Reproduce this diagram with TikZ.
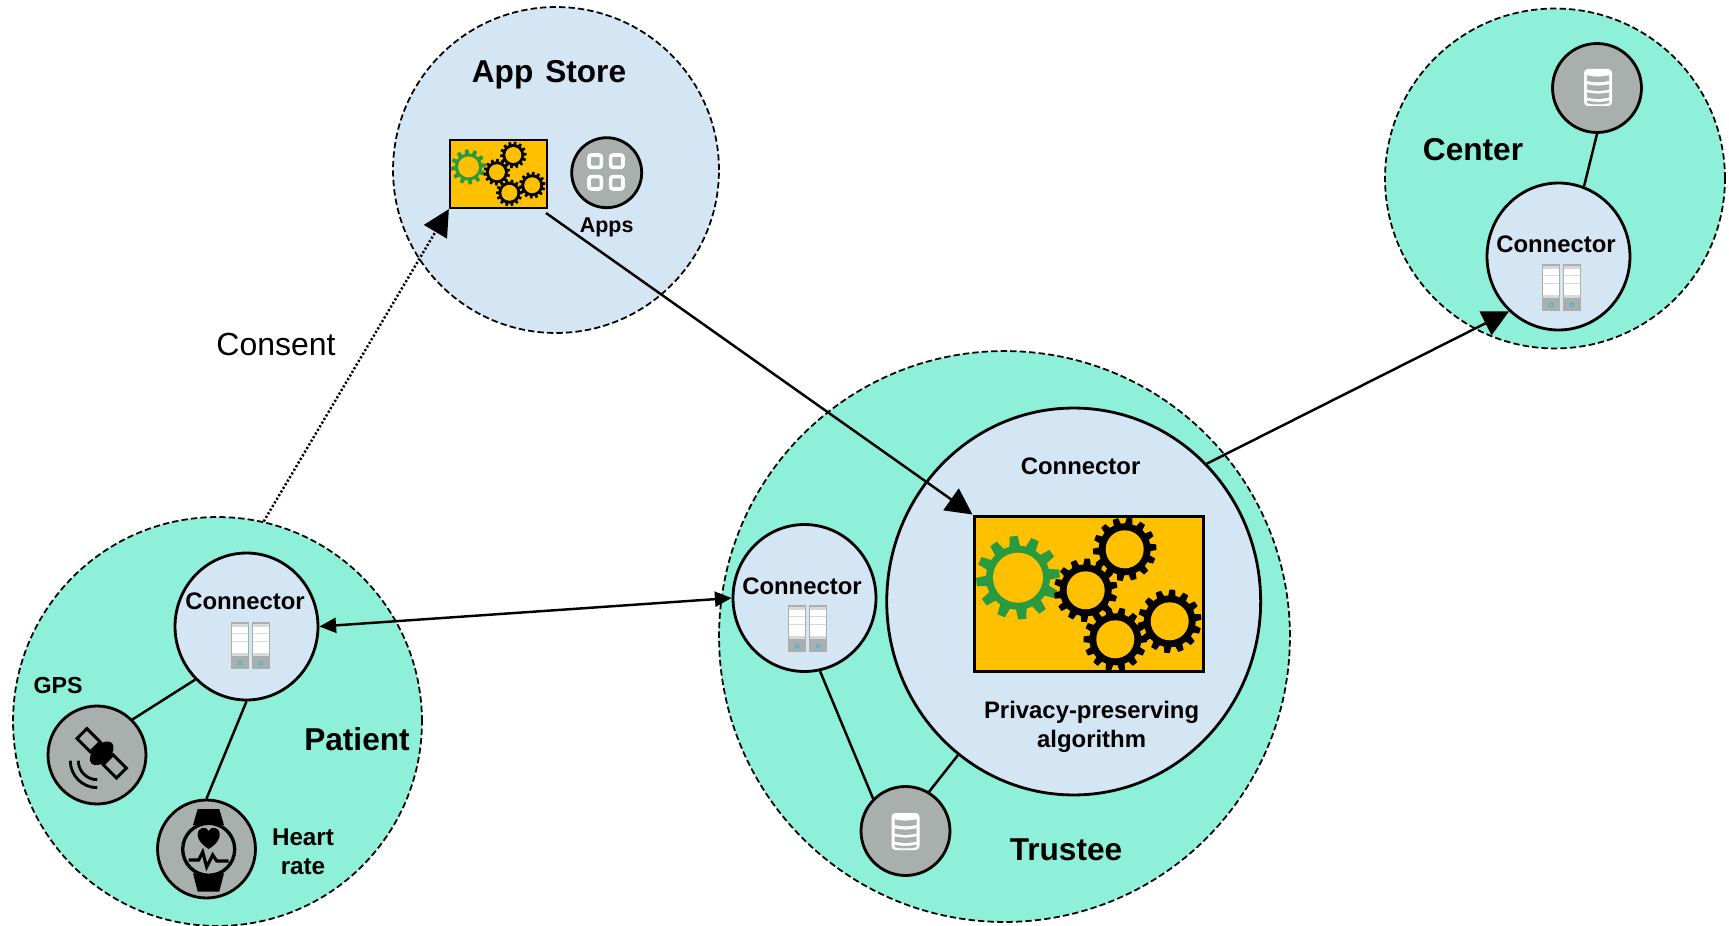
\documentclass[tikz,border=0pt]{standalone}
\usepackage{fontspec}
\setmainfont{Liberation Sans}
\usetikzlibrary{arrows.meta}
\usetikzlibrary{shapes.geometric}

\definecolor{zoneteal}{HTML}{8EF0D9}
\definecolor{zoneblue}{HTML}{D4E5F4}
\definecolor{icongray}{HTML}{A8AFAD}
\definecolor{algoorange}{HTML}{FFC000}
\definecolor{geargreen}{HTML}{2A9A40}
\definecolor{rackcyan}{HTML}{3FB4E0}

\tikzset{
	zone/.style={circle, draw, dash pattern=on 3.6pt off 1.8pt, line width=1pt, inner sep=0pt},
	connector/.style={ellipse, draw, fill=zoneblue, line width=1.6pt, inner sep=0pt, minimum width=2.86cm, minimum height=2.94cm},
	device/.style={circle, draw, fill=icongray, line width=1.6pt, inner sep=0pt},
	algo/.style={rectangle, draw, fill=algoorange, inner sep=0pt},
	title/.style={font=\fontsize{18}{20}\selectfont\bfseries},
	tag/.style={font=\fontsize{13.6}{16.6}\selectfont\bfseries, align=center},
	link/.style={line width=1.4pt},
	flow/.style={link, -{Triangle[length=15pt,width=15pt]}},
	both/.style={link, {Triangle[length=9.5pt,width=8.5pt]}-{Triangle[length=9.5pt,width=8.5pt]}},
}

% One gear wheel: x, y, hole radius, collar radius, tip radius, number of teeth, phase, colour
\newcommand{\gearwheel}[8]{
	\pgfmathsetmacro{\gearstep}{360/#6}
	\fill[#8] (#1,#2) circle (#4);
	\foreach \k in {1,...,#6} {
		\pgfmathsetmacro{\gearang}{#7+\k*\gearstep}
		\fill[#8, shift={(#1,#2)}, rotate=\gearang] (#4-1,-0.32*\gearstep/360*6.28*#4) -- (#5,-0.24*\gearstep/360*6.28*#4) -- (#5,0.24*\gearstep/360*6.28*#4) -- (#4-1,0.32*\gearstep/360*6.28*#4) -- cycle;
	}
	\fill[algoorange] (#1,#2) circle (#3);
}

% The five wheels, from the top left corner of their box
\newcommand{\gearset}[3]{
	\begin{scope}[shift={(#1,#2)}, scale=#3]
		\gearwheel{44}{61.7}{25}{32}{41.7}{12}{6}{geargreen}
		\gearwheel{150.7}{33.3}{19}{26}{31.7}{14}{4}{black}
		\gearwheel{111.7}{74.3}{19}{26}{31.7}{14}{10}{black}
		\gearwheel{141.3}{123.3}{19}{26}{31.7}{14}{0}{black}
		\gearwheel{195.7}{105.3}{19}{26}{31.7}{14}{8}{black}
	\end{scope}
}

% Two racks, from their top left corner
\newcommand{\racks}[2]{
	\foreach \dx in {0,21} {
		\begin{scope}[shift={(#1+\dx,#2)}]
			\fill[icongray] (0,0) rectangle (18,47);
			\fill[white] (1.3,1.5) rectangle (16.7,34);
			\fill[black!15] (1.3,1.5) rectangle (16.7,4.5);
			\fill[black!15] (1.3,11) rectangle (16.7,12.3);
			\fill[black!15] (1.3,19) rectangle (16.7,20.3);
			\fill[black!15] (1.3,30.5) rectangle (16.7,34);
			\draw[rackcyan, line width=0.5pt] (9,41) circle (2);
		\end{scope}
	}
}

% White cylinder, from its centre
\newcommand{\stack}[2]{
	\begin{scope}[shift={(#1,#2)}]
		\fill[white, rounded corners=2.2pt] (-14,-18.5) rectangle (14,18.5);
		\foreach \y/\h in {-12.3/5.6, -3.3/5.3, 4.7/5.3, 13/2.6} {
			\fill[icongray] (-11,\y) .. controls (-5,\y+1.8) and (5,\y+1.8) .. (11,\y) -- (11,\y+\h) .. controls (5,\y+\h+1.8) and (-5,\y+\h+1.8) .. (-11,\y+\h) -- cycle;
		}
	\end{scope}
}

\begin{document}
\begin{tikzpicture}[x=0.02cm, y=-0.02cm]
	\useasboundingbox (0,0) rectangle (1729,926);

	% The four zones
	\node[zone, fill=zoneblue, minimum size=6.52cm] (store) at (556,170) {};
	\node[zone, fill=zoneteal, minimum size=8.18cm] (patient) at (217.5,721.5) {};
	\node[zone, fill=zoneteal, minimum size=11.42cm] (trustee) at (1004.5,636.5) {};
	\node[zone, fill=zoneteal, minimum size=6.8cm] (center) at (1555,178.5) {};

	% Connectors
	\node[connector] (conPatient) at (246.5,626.5) {};
	\node[connector] (conTrustee) at (804.5,598) {};
	\node[connector] (conCenter) at (1558.5,256.5) {};
	\node[connector, minimum width=7.48cm, minimum height=7.74cm] (conAlgo) at (1073.7,601.5) {};

	% Devices
	\node[device, minimum size=1.96cm] (gps) at (97,755) {};
	\node[device, minimum size=1.96cm] (watch) at (206.5,849) {};
	\node[device, minimum size=1.78cm] (dbTrustee) at (905.5,831) {};
	\node[device, minimum size=1.78cm] (dbCenter) at (1597,88) {};
	\node[device, minimum size=1.4cm] (apps) at (606.7,172.7) {};

	% Algorithm boxes and their wheels
	\node[algo, line width=1.3pt, minimum width=1.94cm, minimum height=1.36cm] (algoStore) at (498.5,174) {};
	\node[algo, line width=1.7pt, minimum width=4.6cm, minimum height=3.12cm] (algoBig) at (1089,594) {};
	\gearset{450}{141}{0.42}
	\gearset{974}{516}{1}

	% Icons
	\racks{231}{622}
	\racks{788}{605}
	\racks{1542}{264}
	\stack{1598}{87.5}
	\stack{905.5}{831.5}

	\foreach \dx/\dy in {-10.8/-10.8, 10.8/-10.8, -10.8/10.8, 10.8/10.8} {
		\draw[white, line width=2.1pt, rounded corners=1.5pt] (606+\dx-6.2,172+\dy-6.2) rectangle (606+\dx+6.2,172+\dy+6.2);
	}

	% Satellite
	\begin{scope}[shift={(101.7,753.3)}, rotate=-45]
		\draw[line width=1.7pt] (-28,-7) rectangle (-9,7);
		\draw[line width=1.7pt] (9,-7) rectangle (28,7);
		\fill (0,0) ellipse (8.5 and 14.5);
	\end{scope}
	\foreach \r in {19,27} {
		\draw[line width=1.6pt] (97.3-\r,760.7) arc (180:90:\r);
	}

	% Watch
	\fill (197.7,809) -- (219.3,809) -- (224,825) -- (193,825) -- cycle;
	\fill (193,873.3) -- (224,873.3) -- (219.3,891.5) -- (197.7,891.5) -- cycle;
	\draw[line width=1.9pt, fill=icongray] (208.7,849.3) circle (26);
	\fill[shift={(208.7,849)}] (0,0) .. controls (-8,-5) and (-11,-10) .. (-11,-14) .. controls (-11,-23) and (-2,-23) .. (0,-18) .. controls (2,-23) and (11,-23) .. (11,-14) .. controls (11,-10) and (8,-5) .. (0,0);
	\draw[line width=1.8pt, shift={(208.7,849)}] (-20,11) -- (-10,11) -- (-6,3) -- (-2,18) -- (4,6) -- (8,12) -- (20,12);

	% Labels
	\node[title] (lblStore) at (549,75) {App\hspace{0.1em} Store};
	\node[title] (lblPatient) at (357,739) {Patient};
	\node[title] (lblTrustee) at (1066,850) {Trustee};
	\node[title] (lblCenter) at (1473,150) {Center};
	\node[font=\fontsize{18.2}{20}\selectfont] (lblConsent) at (276,344) {Consent};
	\node[tag] (lblConPatient) at (245,601) {Connector};
	\node[tag] (lblConTrustee) at (802,586) {Connector};
	\node[tag] (lblConCenter) at (1556,244) {Connector};
	\node[tag] (lblConAlgo) at (1080.6,466) {Connector};
	\node[tag] (lblAlgo) at (1091.6,726.5) {Privacy-preserving\\algorithm};
	\node[tag, font=\fontsize{12.2}{14}\selectfont\bfseries] (lblApps) at (606.7,227) {Apps};
	\node[tag, font=\fontsize{13.2}{15}\selectfont\bfseries] (lblGps) at (58,686) {GPS};
	\node[tag, font=\fontsize{13.8}{16.6}\selectfont\bfseries] (lblHeart) at (303,852) {Heart\\rate};

	% Links
	\draw[link] (conPatient.226) to[] (gps.45);
	\draw[link] (conPatient.south) to[] (watch.north);
	\draw[link] (conTrustee.-78) to[] (dbTrustee.135);
	\draw[link] (conAlgo.233) to[] (dbTrustee.59);
	\draw[link] (conCenter.70) to[] (dbCenter.south);

	% Arrows
	\coordinate (storeOut) at (546,213);
	\draw[link, dash pattern=on 1.2pt off 1.2pt, -{Triangle[length=15pt,width=15pt]}] (patient.77) to[] (algoStore.south west);
	\draw[flow] (storeOut) to[] (algoBig.north west);
	\draw[flow] (conAlgo.46) to[] (conCenter.228);
	\draw[both] (conPatient.east) to[] (conTrustee.west);
\end{tikzpicture}
\end{document}
